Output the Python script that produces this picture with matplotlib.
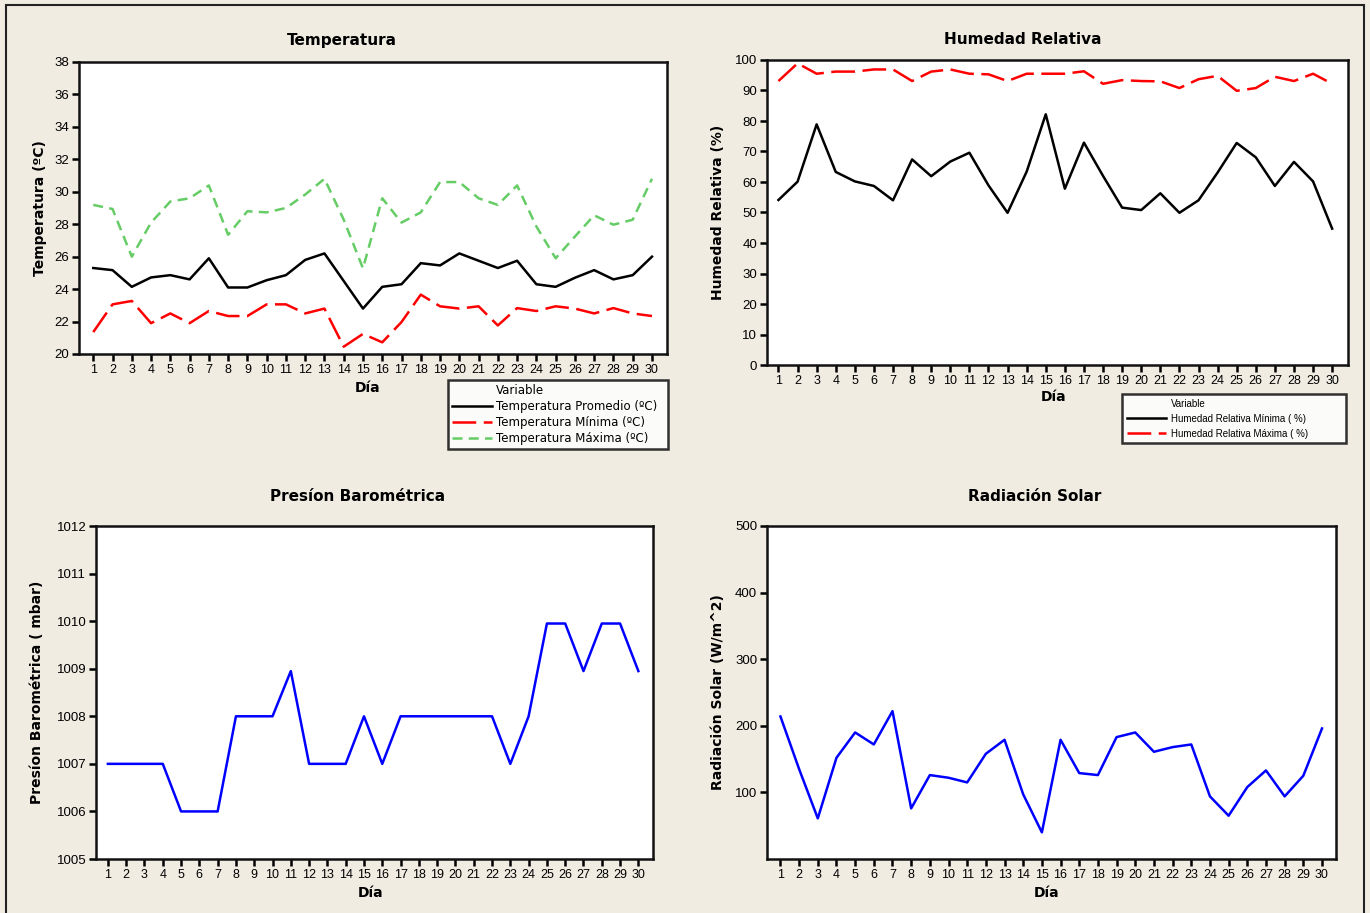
import matplotlib
matplotlib.use('Agg')
import matplotlib.pyplot as plt
from matplotlib.lines import Line2D
from matplotlib.patches import Rectangle
from matplotlib import font_manager

# ---------------- data ----------------
dias = list(range(1, 31))
dias_labels = [str(d) for d in dias]

temp_promedio = [25.3, 25.17, 24.14, 24.72, 24.86, 24.6, 25.9, 24.1, 24.1, 24.55,
                 24.86, 25.8, 26.2, 24.5, 22.8, 24.14, 24.3, 25.6, 25.46, 26.2,
                 25.75, 25.3, 25.75, 24.3, 24.14, 24.7, 25.17, 24.6, 24.86, 26.0]
temp_minima = [21.35, 23.06, 23.27, 21.9, 22.5, 21.9, 22.65, 22.34, 22.34, 23.06,
               23.06, 22.5, 22.8, 20.45, 21.24, 20.72, 21.97, 23.66, 22.94, 22.8,
               22.94, 21.76, 22.83, 22.65, 22.94, 22.8, 22.5, 22.83, 22.5, 22.34]
temp_maxima = [29.19, 28.94, 26.0, 28.1, 29.4, 29.6, 30.39, 27.35, 28.8, 28.73,
               29.0, 29.83, 30.8, 28.28, 25.28, 29.6, 28.1, 28.73, 30.6, 30.6,
               29.6, 29.19, 30.39, 27.86, 25.9, 27.24, 28.55, 27.97, 28.28, 30.8]

hum_minima = [54.1, 60.1, 78.9, 63.3, 60.2, 58.7, 54.0, 67.4, 61.9, 66.7,
              69.6, 58.9, 49.9, 63.4, 82.2, 57.8, 72.9, 62.0, 51.6, 50.8,
              56.3, 49.9, 54.0, 63.1, 72.8, 68.1, 58.7, 66.6, 60.2, 44.7]
hum_maxima = [93.1, 98.9, 95.5, 96.2, 96.2, 96.9, 96.9, 93.1, 96.2, 96.9,
              95.5, 95.3, 93.1, 95.5, 95.5, 95.5, 96.3, 92.2, 93.4, 93.1,
              93.0, 90.8, 93.7, 94.8, 89.9, 90.8, 94.5, 93.1, 95.5, 92.2]

presion = [1007, 1007, 1007, 1007, 1006, 1006, 1006, 1008, 1008, 1008,
           1008.95, 1007, 1007, 1007, 1008, 1007, 1008, 1008, 1008, 1008,
           1008, 1008, 1007, 1008, 1009.95, 1009.95, 1008.95, 1009.95, 1009.95, 1008.95]

radiacion = [214, 135, 61, 152, 190, 172, 222, 76, 126, 122,
             115, 158, 179, 97, 40, 179, 129, 126, 183, 190,
             161, 168, 172, 94, 65, 108, 133, 94, 125, 196]

# ---------------- style ----------------
W, H = 1370, 913
BG = '#F0ECE2'
fig = plt.figure(figsize=(W / 100, H / 100), dpi=100, facecolor=BG)

avail = {f.name for f in font_manager.fontManager.ttflist}
if 'Liberation Sans Narrow' in avail:
    TICKFONT = ['Liberation Sans Narrow', 'DejaVu Sans']
    TICKSIZE = 10
else:
    TICKFONT = ['Liberation Sans', 'DejaVu Sans']
    TICKSIZE = 9
LW = 1.8


def make_ax(l, t, r, b, xlim):
    ax = fig.add_axes([l / W, 1 - b / H, (r - l) / W, (b - t) / H])
    ax.set_facecolor('white')
    for s in ax.spines.values():
        s.set_linewidth(1.8)
        s.set_color('#111111')
    ax.tick_params(direction='out', length=5, width=1.8, pad=2, labelsize=TICKSIZE)
    ax.set_xticks(dias)
    ax.set_xticklabels(dias_labels)
    ax.set_xlim(*xlim)
    return ax


def fix_fonts(ax):
    for lab in ax.get_xticklabels():
        lab.set_family(TICKFONT)
        lab.set_size(TICKSIZE)
    for lab in ax.get_yticklabels():
        lab.set_family(TICKFONT)
        lab.set_size(TICKSIZE + 0.5)


def ftext(x, y, s, **kw):
    fig.text(x / W, 1 - y / H, s, ha='center', va='center', **kw)


blank = Line2D([], [], color='none')

# ---------------- Temperatura ----------------
ax1 = make_ax(79, 62, 667, 354, (0.26, 30.78))
l1, = ax1.plot(dias, temp_promedio, color='black', lw=LW, label='Temperatura Promedio (ºC)')
l2, = ax1.plot(dias, temp_minima, color='#FF0000', lw=LW, dashes=(9.5, 3), label='Temperatura Mínima (ºC)')
l3, = ax1.plot(dias, temp_maxima, color='#66CC66', lw=LW, dashes=(4, 2.5), label='Temperatura Máxima (ºC)')
ax1.set_ylim(20, 38)
ax1.set_yticks(range(20, 39, 2))
fix_fonts(ax1)
ftext(342, 40, 'Temperatura', fontsize=11, fontweight='bold')
ftext(40, 208, 'Temperatura (ºC)', fontsize=10, fontweight='bold', rotation=90)
ftext(368, 388, 'Día', fontsize=10, fontweight='bold')
leg1 = fig.legend([blank, l1, l2, l3], ['Variable', l1.get_label(), l2.get_label(), l3.get_label()],
                  loc='upper left', bbox_to_anchor=(448 / W, 1 - 452 / H, 220 / W, 72 / H), mode='expand',
                  fontsize=8.5, frameon=True, fancybox=False, edgecolor='black', handlelength=3.4,
                  handletextpad=0.3, labelspacing=0.25, borderpad=0.35, borderaxespad=0)
leg1.get_frame().set_linewidth(1.8)

# ---------------- Humedad Relativa ----------------
ax2 = make_ax(767, 60, 1348, 365, (0.4, 30.83))
h1, = ax2.plot(dias, hum_minima, color='black', lw=LW, label='Humedad Relativa Mínima (%)')
h2, = ax2.plot(dias, hum_maxima, color='#FF0000', lw=LW, dashes=(9.5, 3), label='Humedad Relativa Máxima (%)')
ax2.set_ylim(0, 100)
ax2.set_yticks(range(0, 101, 10))
fix_fonts(ax2)
ftext(1023, 40, 'Humedad Relativa', fontsize=11, fontweight='bold')
ftext(718, 212, 'Humedad Relativa (%)', fontsize=10, fontweight='bold', rotation=90)
ftext(1054, 397, 'Día', fontsize=10, fontweight='bold')
leg2 = fig.legend([blank, h1, h2], ['Variable', 'Humedad Relativa Mínima ( %)', 'Humedad Relativa Máxima ( %)'],
                  loc='upper left', bbox_to_anchor=(1122 / W, 1 - 455 / H, 224 / W, 61 / H), mode='expand',
                  frameon=True, fancybox=False, edgecolor='black', handlelength=4.0,
                  handletextpad=0.5, labelspacing=0.5, borderpad=0.5, borderaxespad=0,
                  prop={'family': TICKFONT, 'size': 7})
leg2.get_frame().set_linewidth(1.8)

# ---------------- Presión Barométrica ----------------
ax3 = make_ax(96, 526, 653, 859, (0.35, 30.8))
ax3.plot(dias, presion, color='#0000FF', lw=LW)
ax3.set_ylim(1005, 1012)
ax3.set_yticks(range(1005, 1013))
fix_fonts(ax3)
ftext(358, 496, 'Presíon Barométrica', fontsize=11, fontweight='bold')
ftext(37, 692, 'Presíon Barométrica ( mbar)', fontsize=10, fontweight='bold', rotation=90)
ftext(371, 893, 'Día', fontsize=10, fontweight='bold')

# ---------------- Radiación Solar ----------------
ax4 = make_ax(767, 526, 1336, 859, (0.28, 30.75))
ax4.plot(dias, radiacion, color='#0000FF', lw=LW)
ax4.set_ylim(0, 500)
ax4.set_yticks(range(100, 501, 100))
fix_fonts(ax4)
ftext(1035, 496, 'Radiación Solar', fontsize=11, fontweight='bold')
ftext(718, 692, 'Radiación Solar (W/m^2)', fontsize=10, fontweight='bold', rotation=90)
ftext(1047, 893, 'Día', fontsize=10, fontweight='bold')

# outer frame
fig.add_artist(Rectangle((6 / W, -0.02), (1364 - 6) / W, 1 - 5 / H + 0.02, transform=fig.transFigure,
                         fill=False, lw=1.5, ec='#222222'))

fig.savefig('out.png', dpi=100, facecolor=BG)
